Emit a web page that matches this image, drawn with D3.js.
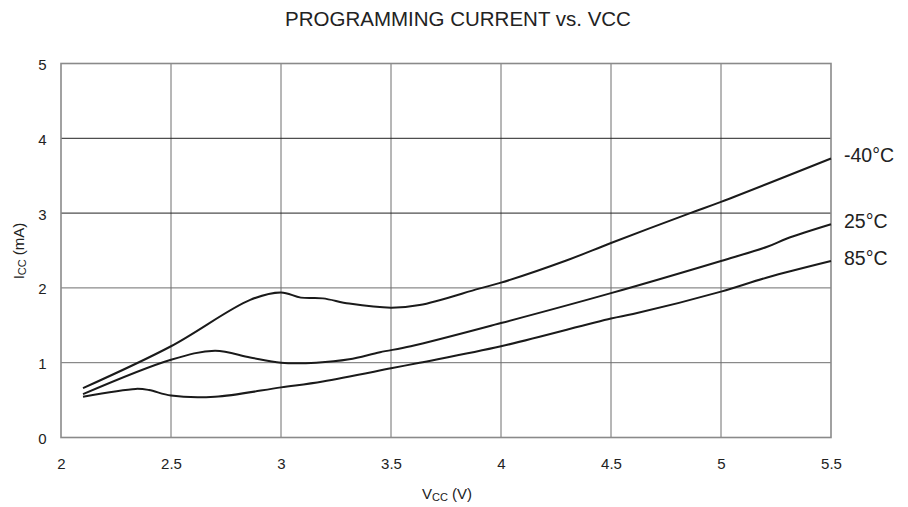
<!DOCTYPE html>
<html><head><meta charset="utf-8">
<script src="https://cdn.jsdelivr.net/npm/d3@7"></script>
<style>
body{margin:0;background:#fff;}
svg{display:block;font-family:"Liberation Sans",Arial,sans-serif;}
</style></head>
<body>
<svg id="c" width="908" height="507"></svg>
<script>
const xTicks = [2, 2.5, 3, 3.5, 4, 4.5, 5, 5.5];
const xTickLabels = ["2", "2.5", "3", "3.5", "4", "4.5", "5", "5.5"];
const yTicks = [0, 1, 2, 3, 4, 5];
const seriesNames = ["-40°C", "25°C", "85°C"];
const vccM40 = [2.1, 2.5, 2.86, 3.0, 3.09, 3.19, 3.31, 3.5, 3.63, 3.9, 4.0, 4.3, 4.5, 4.86, 5.0, 5.5];
const iccM40 = [0.66, 1.22, 1.84, 1.94, 1.87, 1.86, 1.79, 1.735, 1.77, 1.99, 2.07, 2.37, 2.6, 3.0, 3.15, 3.73];
const vcc25 = [2.1, 2.5, 2.7, 2.86, 3.0, 3.16, 3.31, 3.45, 3.59, 4.0, 4.5, 5.0, 5.21, 5.3, 5.5];
const icc25 = [0.58, 1.04, 1.16, 1.07, 1.0, 1.0, 1.045, 1.14, 1.22, 1.53, 1.93, 2.36, 2.55, 2.66, 2.85];
const vcc85 = [2.1, 2.34, 2.4, 2.5, 2.7, 3.0, 3.19, 3.5, 3.63, 4.0, 4.5, 4.6, 5.0, 5.21, 5.5];
const icc85 = [0.545, 0.65, 0.635, 0.56, 0.545, 0.67, 0.75, 0.925, 1.0, 1.22, 1.59, 1.65, 1.95, 2.14, 2.36];

const series = [
  {name: seriesNames[0], xs: vccM40, ys: iccM40},
  {name: seriesNames[1], xs: vcc25, ys: icc25},
  {name: seriesNames[2], xs: vcc85, ys: icc85}
];

const svg = d3.select("#c");
const L = 61, R = 831, T = 63.5, B = 437.5;
const x = d3.scaleLinear().domain([2, 5.5]).range([L, R]);
const y = d3.scaleLinear().domain([0, 5]).range([B, T]);

// gridlines
svg.append("g").selectAll("line").data(xTicks.slice(1, -1)).join("line")
  .attr("x1", d => x(d)).attr("x2", d => x(d)).attr("y1", T).attr("y2", B)
  .attr("stroke", "#6e6e6e").attr("stroke-width", 1);
svg.append("g").selectAll("line").data(yTicks.slice(1, -1)).join("line")
  .attr("x1", L).attr("x2", R).attr("y1", d => y(d)).attr("y2", d => y(d))
  .attr("stroke", d => d >= 3 ? "#222" : "#6e6e6e").attr("stroke-width", 1);

// frame
svg.append("rect").attr("x", L).attr("y", T).attr("width", R - L).attr("height", B - T)
  .attr("fill", "none").attr("stroke", "#8a8a8a").attr("stroke-width", 1.6);

// axes (labels only)
const xAxis = d3.axisBottom(x).tickValues(xTicks).tickFormat((d, i) => xTickLabels[i]).tickSize(0);
const gx = svg.append("g").attr("transform", `translate(0,${B})`).call(xAxis);
gx.select(".domain").remove();
gx.selectAll("text").attr("fill", "#222").attr("font-size", 15)
  .attr("y", 31.5).attr("dy", null);

const yAxis = d3.axisLeft(y).tickValues(yTicks).tickFormat(d3.format("d")).tickSize(0).tickPadding(14.5);
const gy = svg.append("g").attr("transform", `translate(${L},0)`).call(yAxis);
gy.select(".domain").remove();
gy.selectAll("text").attr("fill", "#222").attr("font-size", 15).attr("dy", "0.4em");

// curves
const line = d3.line().x(d => x(d[0])).y(d => y(d[1])).curve(d3.curveCatmullRom.alpha(0.5));
series.forEach(s => {
  const pts = s.xs.map((v, i) => [v, s.ys[i]]);
  svg.append("path").attr("d", line(pts)).attr("fill", "none")
    .attr("stroke", "#1a1a1a").attr("stroke-width", 2);
  svg.append("text").attr("x", x(5.5) + 13).attr("y", y(s.ys[s.ys.length - 1]) + 4)
    .attr("font-size", 19.5).attr("fill", "#222").text(s.name);
});

// title
svg.append("text").attr("x", 458).attr("y", 25.5).attr("text-anchor", "middle")
  .attr("font-size", 20.5).attr("fill", "#222").text("PROGRAMMING CURRENT vs. VCC");

// x label
const xl = svg.append("text").attr("x", 447).attr("y", 499).attr("text-anchor", "middle")
  .attr("font-size", 15).attr("fill", "#222");
xl.append("tspan").text("V");
xl.append("tspan").attr("font-size", 11).attr("dy", 2).text("CC");
xl.append("tspan").attr("dy", -2).text(" (V)");

// y label
const yl = svg.append("text").attr("transform", `translate(24,251) rotate(-90)`)
  .attr("text-anchor", "middle").attr("font-size", 15).attr("fill", "#222");
yl.append("tspan").text("I");
yl.append("tspan").attr("font-size", 11).attr("dy", 2).text("CC");
yl.append("tspan").attr("dy", -2).text(" (mA)");
</script>
</body></html>
